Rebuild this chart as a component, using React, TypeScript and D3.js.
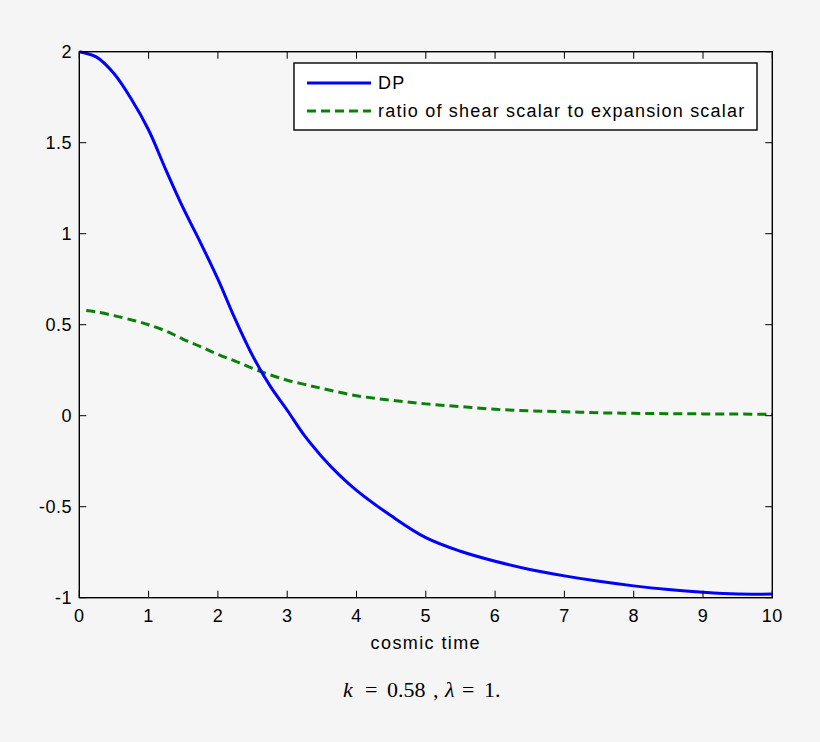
import React from "react";
import * as d3 from "d3";

const WIDTH = 820;
const HEIGHT = 742;

// values
const dpTime = [0, 0.25, 0.5, 0.75, 1, 1.25, 1.5, 1.75, 2, 2.25, 2.5, 2.75, 3, 3.25, 3.5, 3.75, 4, 4.5, 5, 5.5, 6, 6.5, 7, 7.5, 8, 8.5, 9, 9.5, 10];
const dpValues = [2.0, 1.97, 1.88, 1.74, 1.57, 1.35, 1.14, 0.95, 0.75, 0.53, 0.33, 0.165, 0.03, -0.11, -0.225, -0.325, -0.41, -0.55, -0.67, -0.745, -0.80, -0.845, -0.88, -0.91, -0.935, -0.955, -0.97, -0.98, -0.98];

const ratioTime = [0.1, 0.25, 0.5, 0.8, 1, 1.25, 1.5, 1.75, 2, 2.25, 2.5, 2.75, 3, 3.25, 3.5, 4, 4.5, 5, 5.5, 6, 6.5, 7, 7.5, 8, 8.5, 9, 9.5, 10];
const ratioValues = [0.578, 0.57, 0.55, 0.522, 0.5, 0.465, 0.42, 0.38, 0.337, 0.3, 0.26, 0.225, 0.195, 0.172, 0.15, 0.11, 0.085, 0.065, 0.05, 0.035, 0.027, 0.022, 0.016, 0.013, 0.011, 0.01, 0.009, 0.008];

const xTicks = [0, 1, 2, 3, 4, 5, 6, 7, 8, 9, 10];
const yTicks = [-1, -0.5, 0, 0.5, 1, 1.5, 2];

const legendLabels = ["DP", "ratio of shear scalar to expansion scalar"];

const LEFT = 79.3;
const RIGHT = 772.3;
const TOP = 51.7;
const BOTTOM = 597.7;
const TICK = 7;
const FONT = "'Liberation Sans', Arial, Helvetica, sans-serif";
const SERIF = "'Liberation Serif', 'Times New Roman', serif";

export default function App() {
  const x = d3.scaleLinear().domain([0, 10]).range([LEFT, RIGHT]);
  const y = d3.scaleLinear().domain([-1, 2]).range([BOTTOM, TOP]);

  const line = d3
    .line<[number, number]>()
    .x((d) => x(d[0]))
    .y((d) => y(d[1]))
    .curve(d3.curveCatmullRom);

  const dpPath = line(dpTime.map((t, i) => [t, dpValues[i]]));
  const ratioPath = line(ratioTime.map((t, i) => [t, ratioValues[i]]));

  return (
    <svg
      width={WIDTH}
      height={HEIGHT}
      style={{ position: "absolute", left: 0, top: 0, background: "#f5f5f5" }}
    >
      <rect x={0} y={0} width={WIDTH} height={HEIGHT} fill="#f5f5f5" />
      <rect x={LEFT} y={TOP} width={RIGHT - LEFT} height={BOTTOM - TOP} fill="#f6f6f7" />

      <path d={ratioPath ?? ""} fill="none" stroke="#0a800a" strokeWidth={3} strokeDasharray="9,5" />
      <path d={dpPath ?? ""} fill="none" stroke="#0000ff" strokeWidth={3} />

      {/* ticks, inside on all four sides */}
      {xTicks.map((t) => (
        <g key={"x" + t}>
          <line x1={x(t)} x2={x(t)} y1={BOTTOM} y2={BOTTOM - TICK} stroke="#000" strokeWidth={1} />
          <line x1={x(t)} x2={x(t)} y1={TOP} y2={TOP + TICK} stroke="#000" strokeWidth={1} />
          <text x={x(t)} y={622} textAnchor="middle" fontFamily={FONT} fontSize={18} letterSpacing={0.5}>
            {t}
          </text>
        </g>
      ))}
      {yTicks.map((v) => (
        <g key={"y" + v}>
          <line x1={LEFT} x2={LEFT + TICK} y1={y(v)} y2={y(v)} stroke="#000" strokeWidth={1} />
          <line x1={RIGHT} x2={RIGHT - TICK} y1={y(v)} y2={y(v)} stroke="#000" strokeWidth={1} />
          <text x={72} y={y(v)} dy="0.36em" textAnchor="end" fontFamily={FONT} fontSize={18} letterSpacing={0.5}>
            {v}
          </text>
        </g>
      ))}

      <rect
        x={LEFT}
        y={TOP}
        width={RIGHT - LEFT}
        height={BOTTOM - TOP}
        fill="none"
        stroke="#000"
        strokeWidth={1.4}
      />

      {/* legend */}
      <g>
        <rect x={294} y={63} width={463} height={67} fill="#fff" stroke="#000" strokeWidth={1.4} />
        <line x1={307} x2={371} y1={83} y2={83} stroke="#0000ff" strokeWidth={3} />
        <line x1={307} x2={371} y1={111} y2={111} stroke="#0a800a" strokeWidth={3} strokeDasharray="9,5" />
        <text x={378} y={83} dy="0.36em" fontFamily={FONT} fontSize={18} letterSpacing={1.2}>
          {legendLabels[0]}
        </text>
        <text x={378} y={111} dy="0.36em" fontFamily={FONT} fontSize={18} letterSpacing={1.2}>
          {legendLabels[1]}
        </text>
      </g>

      <text x={(LEFT + RIGHT) / 2} y={649} textAnchor="middle" fontFamily={FONT} fontSize={18} letterSpacing={1.4}>
        cosmic time
      </text>

      <g fontFamily={SERIF} fontSize={22}>
        <text x={343} y={697} fontStyle="italic">k</text>
        <text x={365} y={697}>=</text>
        <text x={387} y={697}>0.58</text>
        <text x={433} y={697}>,</text>
        <text x={445} y={697} fontStyle="italic">λ</text>
        <text x={462} y={697}>=</text>
        <text x={484} y={697}>1.</text>
      </g>
    </svg>
  );
}
